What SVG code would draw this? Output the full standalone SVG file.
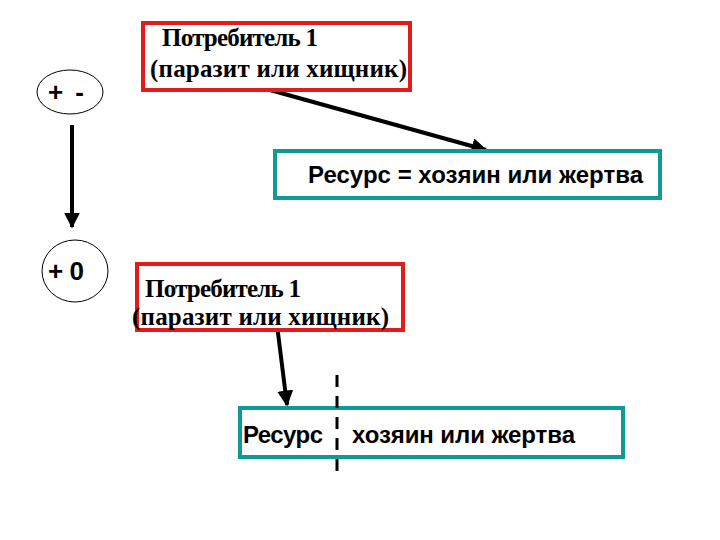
<svg xmlns="http://www.w3.org/2000/svg" width="720" height="540" viewBox="0 0 720 540">
<defs>
<style>
.red{fill:#fff;stroke:#e41b1b;stroke-width:4}
.teal{fill:#fff;stroke:#0f9a96;stroke-width:4}
.ell{fill:#fff;stroke:#000;stroke-width:1}
.tr{font-family:"Liberation Serif",serif;font-weight:bold;font-size:25px;fill:#000}
.ar{font-family:"Liberation Sans",Arial,sans-serif;font-weight:bold;font-size:24px;fill:#000}
.sg{font-family:"Liberation Sans",Arial,sans-serif;font-weight:bold;font-size:26px;fill:#000}
.con{stroke:#000;stroke-width:4;fill:none}
</style>
<marker id="ah" viewBox="0 0 10 10" refX="9" refY="5" markerWidth="4" markerHeight="4" orient="auto" markerUnits="strokeWidth">
<path d="M0,0 L10,5 L0,10 z" fill="#000"/>
</marker>
</defs>
<g id="connectors">
<line class="con" x1="72" y1="125" x2="72" y2="227" stroke-width="3" marker-end="url(#ah)"/>
<line class="con" x1="270" y1="90" x2="486" y2="150" marker-end="url(#ah)"/>
<line class="con" x1="277" y1="325" x2="287" y2="405" marker-end="url(#ah)"/>
</g>
<g id="e1">
<ellipse class="ell" cx="70" cy="92" rx="33" ry="22"/>
<text class="sg" x="48" y="101" textLength="36" lengthAdjust="spacing">+ -</text>
</g>
<g id="e2">
<ellipse class="ell" cx="75" cy="271" rx="33" ry="31"/>
<text class="sg" x="48" y="280" textLength="36" lengthAdjust="spacing">+ 0</text>
</g>
<g id="c1">
<rect class="red" x="143" y="23" width="267" height="67"/>
<text class="tr" x="162" y="46" textLength="156">Потребитель 1</text>
<text class="tr" x="150" y="77" textLength="257">(паразит или хищник)</text>
</g>
<g id="r1">
<rect class="teal" x="275" y="151" width="385" height="47"/>
<text class="ar" x="308" y="183" textLength="335">Ресурс = хозяин или жертва</text>
</g>
<g id="c2">
<rect class="red" x="137" y="264" width="266" height="66"/>
<text class="tr" x="145" y="297" textLength="156">Потребитель 1</text>
<text class="tr" x="132" y="325" textLength="257">(паразит или хищник)</text>
</g>
<g id="r2">
<rect class="teal" x="240" y="408" width="383" height="49"/>
<text class="ar" x="243" y="443" textLength="80">Ресурс</text>
<text class="ar" x="352" y="443" textLength="223">хозяин или жертва</text>
</g>
<g id="divider">
<line x1="337" y1="375" x2="337" y2="475" stroke="#000" stroke-width="3" stroke-dasharray="12,9"/>
</g>
</svg>
